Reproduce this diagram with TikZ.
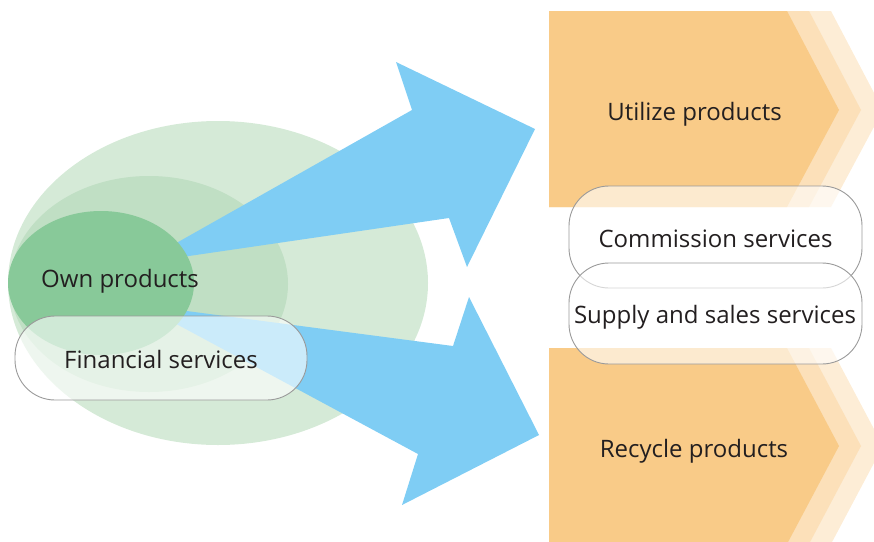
\documentclass[tikz,border=0pt]{standalone}
\usepackage{fontspec}
\setmainfont{Open Sans}
\definecolor{gOuter}{HTML}{D5EAD7}
\definecolor{gMid}{HTML}{C0DFC4}
\definecolor{gInner}{HTML}{88C999}
\definecolor{arrowblue}{HTML}{7FCDF4}
\definecolor{or1}{HTML}{F9CB88}
\definecolor{or2}{HTML}{FCE0B9}
\definecolor{or3}{HTML}{FDEDD6}
\definecolor{txt}{HTML}{231F20}
\definecolor{pillline}{HTML}{9A9A9A}
\begin{document}
\begin{tikzpicture}[x=1pt,y=-1pt,
  lbl/.style={anchor=base,inner sep=0pt,text=txt,font=\fontsize{24}{28}\selectfont},
  pill/.style={draw=pillline,line width=0.9pt,fill=white,fill opacity=0.6,rounded corners=40pt},
  bigarrow/.style={fill=arrowblue}]
\useasboundingbox (0,0) rectangle (874,541);
\clip (0,0) rectangle (874,541);
% ellipses
\fill[gOuter] (218,283) ellipse [x radius=210pt, y radius=162pt];
\fill[gMid] (149,284) ellipse [x radius=139pt, y radius=108pt];
% arrows
\fill[bigarrow] (141,263) -- (412,110) -- (396,62) -- (535,129) -- (467,267) -- (449,218) -- cycle;
\fill[bigarrow] (141,305) -- (453,346) -- (469,297) -- (539,435) -- (402,505) -- (418,454) -- cycle;
% inner ellipse
\fill[gInner] (101,283) ellipse [x radius=93pt, y radius=72pt];
% chevrons upper
\fill[or3] (549,11) -- (831,11) -- (883,110) -- (831,207) -- (549,207) -- cycle;
\fill[or2] (549,11) -- (809,11) -- (861,110) -- (809,207) -- (549,207) -- cycle;
\fill[or1] (549,11) -- (787,11) -- (839,110) -- (787,207) -- (549,207) -- cycle;
% chevrons lower
\fill[or3] (549,348) -- (831,348) -- (883,446) -- (831,544) -- (549,544) -- cycle;
\fill[or2] (549,348) -- (809,348) -- (861,446) -- (809,544) -- (549,544) -- cycle;
\fill[or1] (549,348) -- (787,348) -- (839,446) -- (787,544) -- (549,544) -- cycle;
% pills
\draw[pill] (15,316) rectangle (307,400);
\draw[pill] (569,186) rectangle (862,288);
\draw[pill] (569,263) rectangle (862,364);
% labels
\node[lbl] (own) at (120,287) {Own products};
\node[lbl] (fin) at (161,368) {Financial services};
\node[lbl] (util) at (694.5,120) {Utilize products};
\node[lbl] (recy) at (694,457) {Recycle products};
\node[lbl] (comm) at (715.5,247) {Commission services};
\node[lbl] (supp) at (715,323) {Supply and sales services};
\end{tikzpicture}
\end{document}
